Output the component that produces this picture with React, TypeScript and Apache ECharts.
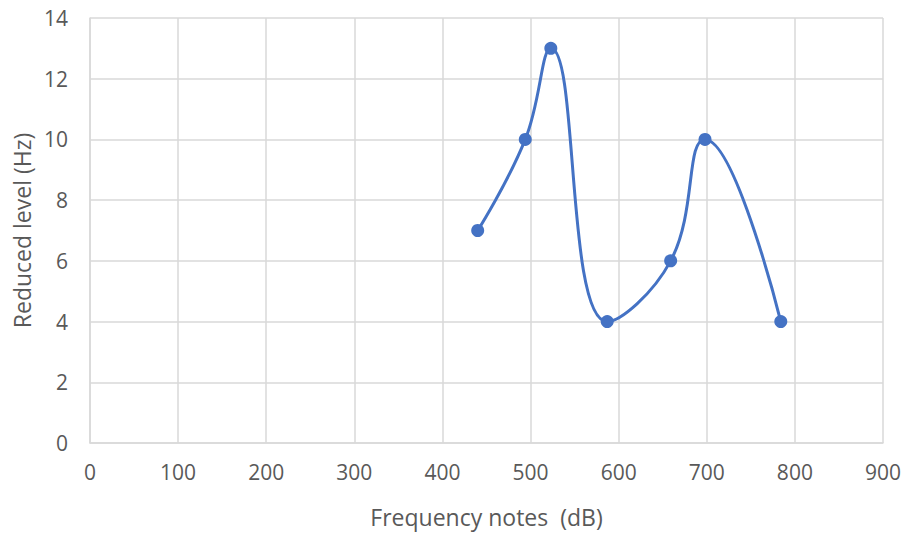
import React, { useEffect, useRef } from "react";
import * as echarts from "echarts";

const frequencies = [440, 494, 523, 587, 659, 698, 784];
const levels = [7, 10, 13, 4, 6, 10, 4];
const xAxisName = "Frequency notes  (dB)";
const yAxisName = "Reduced level (Hz)";

export default function App() {
  const ref = useRef<HTMLDivElement>(null);
  useEffect(() => {
    const chart = echarts.init(ref.current!, null, { renderer: "svg" });
    const font = "'Open Sans', 'Segoe UI', sans-serif";
    chart.setOption({
      animation: false,
      grid: { left: 90, right: 23, top: 18, bottom: 86 },
      xAxis: {
        type: "value",
        min: 0,
        max: 900,
        interval: 100,
        name: xAxisName,
        nameLocation: "middle",
        nameGap: 62,
        nameTextStyle: { color: "#595959", fontSize: 23, fontFamily: font },
        axisLine: { show: true, lineStyle: { color: "#d9d9d9", width: 1.5 } },
        axisTick: { show: false },
        axisLabel: { color: "#595959", fontSize: 21, fontFamily: font, margin: 18 },
        splitLine: { show: true, lineStyle: { color: "#d9d9d9", width: 1.5 } },
      },
      yAxis: {
        type: "value",
        min: 0,
        max: 14,
        interval: 2,
        name: yAxisName,
        nameLocation: "middle",
        nameGap: 56,
        nameTextStyle: { color: "#595959", fontSize: 23, fontFamily: font },
        axisLine: { show: true, lineStyle: { color: "#d9d9d9", width: 1.5 } },
        axisTick: { show: false },
        axisLabel: { color: "#595959", fontSize: 21, fontFamily: font, margin: 22 },
        splitLine: { show: true, lineStyle: { color: "#d9d9d9", width: 1.5 } },
      },
      series: [
        {
          type: "line",
          data: frequencies.map((f, i) => [f, levels[i]]),
          smooth: 0.45,
          symbol: "circle",
          symbolSize: 13,
          lineStyle: { color: "#4472C4", width: 3 },
          itemStyle: { color: "#4472C4" },
        },
      ],
    });
    return () => chart.dispose();
  }, []);
  return <div ref={ref} style={{ width: 906, height: 533, position: "absolute", left: 0, top: 0 }} />;
}
